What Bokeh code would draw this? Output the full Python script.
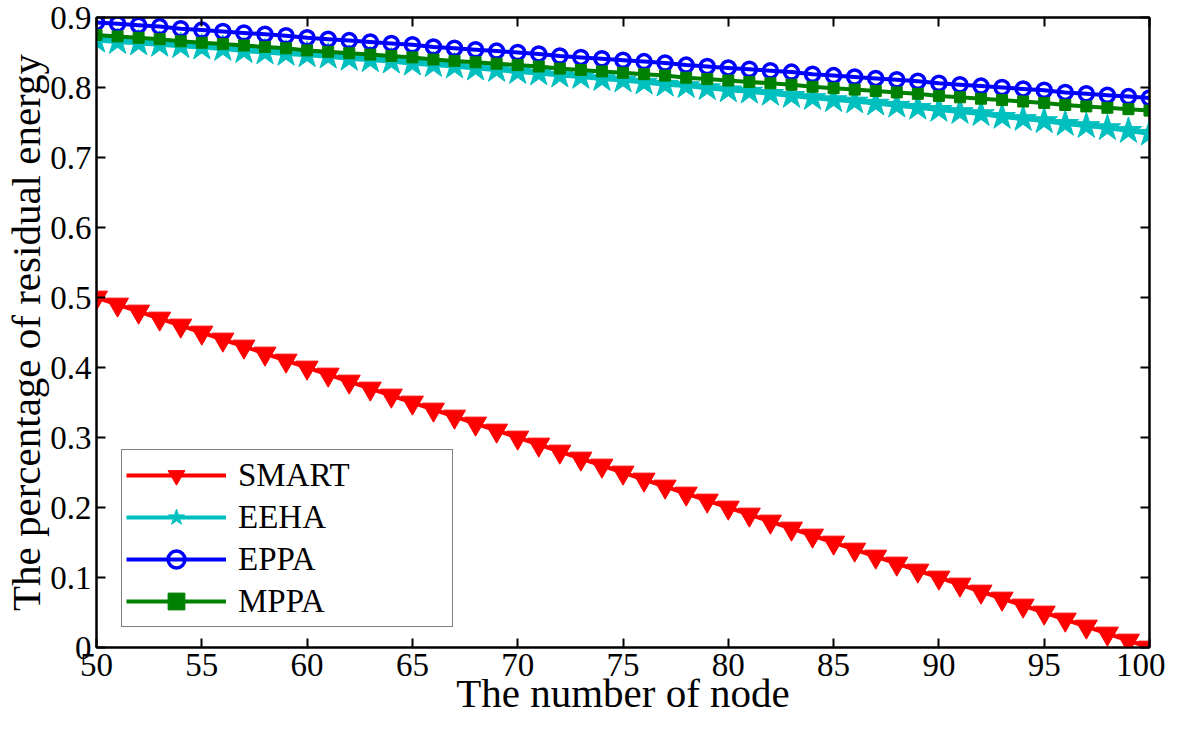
from bokeh.plotting import figure
from bokeh.models import LinearAxis, Range1d, FixedTicker, Legend
from bokeh.embed import file_html
from bokeh.resources import INLINE

nodes = list(range(50, 101))

smart = [0.50, 0.49, 0.48, 0.47, 0.46, 0.45, 0.44, 0.43, 0.42, 0.41,
         0.40, 0.39, 0.38, 0.37, 0.36, 0.35, 0.34, 0.33, 0.32, 0.31,
         0.30, 0.29, 0.28, 0.27, 0.26, 0.25, 0.24, 0.23, 0.22, 0.21,
         0.20, 0.19, 0.18, 0.17, 0.16, 0.15, 0.14, 0.13, 0.12, 0.11,
         0.10, 0.09, 0.08, 0.07, 0.06, 0.05, 0.04, 0.03, 0.02, 0.01,
         0.00]
eeha = [0.867, 0.865, 0.863, 0.861, 0.859, 0.857, 0.855, 0.852, 0.850, 0.848,
        0.846, 0.844, 0.841, 0.839, 0.837, 0.834, 0.832, 0.830, 0.827, 0.825,
        0.822, 0.820, 0.817, 0.815, 0.812, 0.810, 0.807, 0.804, 0.802, 0.799,
        0.796, 0.794, 0.791, 0.788, 0.785, 0.782, 0.780, 0.777, 0.774, 0.771,
        0.768, 0.765, 0.762, 0.758, 0.755, 0.752, 0.748, 0.745, 0.742, 0.738,
        0.734]
eppa = [0.893, 0.891, 0.889, 0.887, 0.884, 0.882, 0.880, 0.878, 0.876, 0.874,
        0.871, 0.869, 0.867, 0.865, 0.863, 0.861, 0.858, 0.856, 0.854, 0.852,
        0.850, 0.848, 0.845, 0.843, 0.841, 0.839, 0.837, 0.835, 0.832, 0.830,
        0.828, 0.826, 0.824, 0.822, 0.819, 0.817, 0.815, 0.813, 0.811, 0.809,
        0.806, 0.804, 0.802, 0.800, 0.798, 0.796, 0.793, 0.791, 0.789, 0.787,
        0.785]
mppa = [0.875, 0.873, 0.871, 0.869, 0.866, 0.864, 0.862, 0.860, 0.858, 0.856,
        0.853, 0.851, 0.849, 0.847, 0.845, 0.843, 0.840, 0.838, 0.836, 0.834,
        0.832, 0.830, 0.827, 0.825, 0.823, 0.821, 0.819, 0.817, 0.814, 0.812,
        0.810, 0.808, 0.806, 0.804, 0.801, 0.799, 0.797, 0.795, 0.793, 0.791,
        0.788, 0.786, 0.784, 0.782, 0.780, 0.778, 0.775, 0.773, 0.771, 0.769,
        0.767]

x_ticks = [50, 55, 60, 65, 70, 75, 80, 85, 90, 95, 100]
y_ticks = [0, 0.1, 0.2, 0.3, 0.4, 0.5, 0.6, 0.7, 0.8, 0.9]
y_tick_labels = {0: "0", 0.1: "0.1", 0.2: "0.2", 0.3: "0.3", 0.4: "0.4",
                 0.5: "0.5", 0.6: "0.6", 0.7: "0.7", 0.8: "0.8", 0.9: "0.9"}

FONT = "Liberation Serif"

p = figure(width=1165, height=718, output_backend="svg", toolbar_location=None,
           x_range=Range1d(50, 100), y_range=Range1d(0, 0.9),
           min_border_left=0, min_border_right=16, min_border_top=17,
           min_border_bottom=0)
p.xgrid.visible = False
p.ygrid.visible = False
p.outline_line_color = "black"
p.outline_line_width = 2
p.background_fill_color = "white"
p.border_fill_color = "white"

def style_axis(ax):
    ax.major_tick_in = 9
    ax.major_tick_out = 0
    ax.minor_tick_in = 0
    ax.minor_tick_out = 0
    ax.axis_line_color = "black"
    ax.axis_line_width = 2
    ax.major_tick_line_width = 2
    ax.major_label_text_font = FONT
    ax.major_label_text_font_size = "33px"
    ax.major_label_text_color = "black"
    ax.axis_label_text_font = FONT
    ax.axis_label_text_font_style = "normal"
    ax.axis_label_text_font_size = "41px"
    ax.axis_label_text_color = "black"

p.xaxis.ticker = FixedTicker(ticks=x_ticks)
p.yaxis.ticker = FixedTicker(ticks=y_ticks)
p.yaxis.major_label_overrides = y_tick_labels
style_axis(p.xaxis[0])
style_axis(p.yaxis[0])
p.xaxis.axis_label = "The number of node"
p.yaxis.axis_label = "The percentage of residual energy"
p.xaxis.major_label_standoff = 6
p.yaxis.major_label_standoff = 5
p.xaxis.axis_label_standoff = -9
p.yaxis.axis_label_standoff = -2

top_ax = LinearAxis(ticker=FixedTicker(ticks=x_ticks),
                    major_label_overrides={t: "" for t in x_ticks})
style_axis(top_ax)
top_ax.major_label_standoff = 0
p.add_layout(top_ax, "above")
right_ax = LinearAxis(ticker=FixedTicker(ticks=y_ticks),
                      major_label_overrides={t: "" for t in y_ticks})
style_axis(right_ax)
right_ax.major_label_standoff = 0
p.add_layout(right_ax, "right")

LW = 4
r1 = p.line(nodes, smart, color="#FF0000", line_width=LW)
s1 = p.scatter(nodes, smart, marker="inverted_triangle", size=22,
               fill_color="#FF0000", line_color="#FF0000", line_width=1)
r2 = p.line(nodes, eeha, color="#00BFBF", line_width=LW)
s2 = p.scatter(nodes, eeha, marker="star", size=28,
               fill_color="#00BFBF", line_color="#00BFBF", line_width=1)
r3 = p.line(nodes, eppa, color="#0000FF", line_width=LW)
s3 = p.scatter(nodes, eppa, marker="circle", size=14,
               fill_color=None, line_color="#0000FF", line_width=3.5)
r4 = p.line(nodes, mppa, color="#008000", line_width=LW)
s4 = p.scatter(nodes, mppa, marker="square", size=11,
               fill_color="#008000", line_color="#008000", line_width=1)

legend = Legend(items=[("SMART", [r1, s1]), ("EEHA", [r2, s2]),
                       ("EPPA", [r3, s3]), ("MPPA", [r4, s4])],
                location=(25, 20))
legend.label_text_font = FONT
legend.label_text_font_size = "33px"
legend.label_text_color = "black"
legend.glyph_width = 100
legend.glyph_height = 42
legend.label_height = 42
legend.label_width = 210
legend.label_standoff = 12
legend.spacing = 0
legend.padding = 4
legend.margin = 0
legend.border_line_color = "black"
legend.border_line_width = 1.5
legend.background_fill_alpha = 1
p.add_layout(legend, "center")

open("out.html", "w").write(file_html(p, INLINE))
